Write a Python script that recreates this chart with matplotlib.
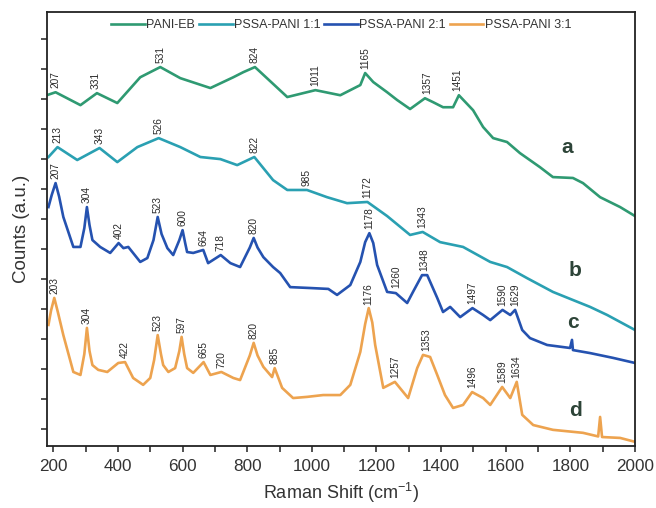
import numpy as np
import matplotlib
matplotlib.use('Agg')
import matplotlib.pyplot as plt

plt.rcParams['font.family'] = ['Liberation Sans', 'DejaVu Sans']
plt.rcParams['mathtext.default'] = 'regular'

series_names = ['PANI-EB', 'PSSA-PANI 1:1', 'PSSA-PANI 2:1', 'PSSA-PANI 3:1']
series_colors = ['#2f9a72', '#2aa0b2', '#2552b0', '#eda34f']
curve_letters = ['a', 'b', 'c', 'd']

# PANI-EB (a)
a_x = [185, 207, 284, 335, 398, 469, 531, 593, 686, 757, 788, 824, 924, 1011, 1088, 1150, 1165,
       1190, 1233, 1264, 1304, 1350, 1375, 1406, 1437, 1455, 1499, 1530, 1561, 1604, 1644, 1706,
       1746, 1808, 1839, 1892, 1954, 2000]
a_y = [11.15, 11.23, 10.8, 11.2, 10.87, 11.73, 12.07, 11.7, 11.37, 11.73, 11.9, 12.07, 11.07, 11.3,
       11.13, 11.47, 11.87, 11.57, 11.23, 10.97, 10.67, 11.03, 10.9, 10.73, 10.73, 11.13, 10.63,
       10.07, 9.7, 9.57, 9.2, 8.73, 8.4, 8.37, 8.2, 7.73, 7.4, 7.1]

# PSSA-PANI 1:1 (b)
b_x = [185, 213, 274, 343, 398, 460, 526, 593, 655, 717, 769, 822, 880, 924, 985, 1047, 1109, 1172,
       1233, 1304, 1343, 1397, 1468, 1552, 1604, 1666, 1746, 1808, 1861, 1914, 2000]
b_y = [9.07, 9.4, 8.97, 9.37, 8.9, 9.4, 9.7, 9.4, 9.07, 9.0, 8.8, 9.07, 8.3, 7.97, 7.97, 7.73, 7.53,
       7.57, 7.1, 6.47, 6.57, 6.23, 6.07, 5.57, 5.4, 5.03, 4.57, 4.3, 4.07, 3.8, 3.3]

# PSSA-PANI 2:1 (c)
c_x = [185, 195, 207, 218, 231, 262, 284, 296, 304, 312, 321, 345, 376, 402, 417, 432, 469, 491, 510,
       523, 535, 553, 571, 590, 600, 608, 614, 633, 664, 679, 718, 748, 778, 808, 820, 832, 850, 880,
       902, 933, 995, 1051, 1078, 1119, 1150, 1165, 1178, 1190, 1202, 1233, 1260, 1295, 1313, 1341,
       1357, 1388, 1406, 1428, 1459, 1497, 1530, 1552, 1590, 1614, 1629, 1651, 1675, 1728, 1799,
       1805, 1808, 1861, 1932, 2000]
c_y = [7.4, 7.8, 8.2, 7.75, 7.07, 6.07, 6.07, 6.7, 7.4, 6.8, 6.3, 6.07, 5.87, 6.2, 6.03, 6.07, 5.57,
       5.7, 6.3, 7.07, 6.5, 6.03, 5.8, 6.3, 6.63, 6.2, 5.9, 5.87, 5.97, 5.53, 5.8, 5.53, 5.4, 6.05,
       6.37, 6.05, 5.73, 5.4, 5.2, 4.73, 4.7, 4.67, 4.47, 4.8, 5.57, 6.23, 6.53, 6.2, 5.47, 4.57,
       4.53, 4.2, 4.57, 5.13, 5.13, 4.37, 3.9, 4.07, 3.73, 4.03, 3.8, 3.63, 3.97, 3.8, 3.97, 3.3,
       3.03, 2.8, 2.7, 2.97, 2.63, 2.53, 2.37, 2.2]

# PSSA-PANI 3:1 (d)
d_x = [185, 193, 203, 214, 231, 262, 284, 296, 304, 312, 321, 339, 367, 401, 422, 447, 478, 500, 512,
       523, 533, 540, 556, 577, 590, 597, 605, 614, 633, 665, 686, 720, 757, 778, 808, 820, 832, 850,
       877, 885, 908, 942, 986, 1035, 1088, 1119, 1150, 1165, 1176, 1187, 1196, 1221, 1257, 1298,
       1326, 1344, 1366, 1388, 1412, 1437, 1468, 1496, 1530, 1552, 1589, 1614, 1634, 1651, 1685,
       1746, 1839, 1886, 1892, 1898, 1954, 2000]
d_y = [3.47, 3.95, 4.37, 3.9, 3.13, 1.9, 1.8, 2.5, 3.37, 2.6, 2.13, 1.97, 1.9, 2.2, 2.23, 1.7, 1.47,
       1.7, 2.3, 3.13, 2.5, 2.13, 1.9, 2.03, 2.6, 3.07, 2.5, 2.03, 1.87, 2.23, 1.8, 1.9, 1.7, 1.63,
       2.45, 2.87, 2.45, 2.07, 1.73, 2.03, 1.37, 1.03, 1.07, 1.13, 1.13, 1.47, 2.57, 3.5, 4.03, 3.55,
       2.8, 1.37, 1.57, 1.03, 2.03, 2.47, 2.4, 1.8, 1.13, 0.7, 0.8, 1.23, 1.03, 0.8, 1.4, 1.03, 1.57,
       0.47, 0.13, -0.03, -0.13, -0.25, 0.4, -0.27, -0.3, -0.43]

a_peaks = [207, 331, 531, 824, 1011, 1165, 1357, 1451]
b_peaks = [213, 343, 526, 822, 985, 1172, 1343]
c_peaks = [207, 304, 402, 523, 600, 664, 718, 820, 1178, 1260, 1348, 1497, 1590, 1629]
d_peaks = [203, 304, 422, 523, 597, 665, 720, 820, 885, 1176, 1257, 1353, 1496, 1589, 1634]

x_ticks = [200, 400, 600, 800, 1000, 1200, 1400, 1600, 1800, 2000]

fig = plt.figure(figsize=(6.56, 5.08), dpi=100)
ax = fig.add_axes([0.0724, 0.122, 0.8956, 0.854])

curves = [(a_x, a_y, a_peaks), (b_x, b_y, b_peaks), (c_x, c_y, c_peaks), (d_x, d_y, d_peaks)]
for (xs, ys, peaks), name, col in zip(curves, series_names, series_colors):
    ax.plot(xs, ys, color=col, lw=1.9, label=name, solid_joinstyle='round')
    fine = np.linspace(min(xs), max(xs), 4000)
    yi = np.interp(fine, xs, ys)
    for p in peaks:
        m = (fine > p - 18) & (fine < p + 18)
        ymax = yi[m].max()
        ax.text(p, ymax + 0.13, str(p), rotation=90, ha='center', va='bottom',
                fontsize=7.3, color='#2b2b2b')

letter_pos = [(1790, 9.4), (1815, 5.3), (1808, 3.55), (1815, 0.63)]
for (lx, ly), letter in zip(letter_pos, curve_letters):
    ax.text(lx, ly, letter, fontsize=15, fontweight='bold', color='#2d4438',
            ha='center', va='center')

ax.set_xlim(182, 2000)
ax.set_ylim(-0.57, 13.9)
ax.set_xticks(x_ticks)
ax.set_xticks(np.arange(300, 2000, 200), minor=True)
ax.set_yticks(np.arange(0, 14))
ax.set_yticklabels([])
ax.tick_params(axis='both', which='both', direction='out', length=4, width=1.1,
               colors='#222222', labelsize=12.3, labelcolor='#333333')
ax.tick_params(axis='x', pad=5)
for s in ax.spines.values():
    s.set_linewidth(1.3)
    s.set_color('#222222')

ax.set_xlabel('Raman Shift (cm$^{-1}$)', fontsize=13, color='#333333', labelpad=5)
ax.set_ylabel('Counts (a.u.)', fontsize=13.5, color='#333333', labelpad=5)

ax.legend(loc='upper center', bbox_to_anchor=(0.5, 1.0), ncol=4, frameon=False,
          fontsize=9, handlelength=2.7, handletextpad=0.1, columnspacing=0.3,
          borderaxespad=0.15, labelcolor='#333333')

fig.savefig('out.png', dpi=100)
